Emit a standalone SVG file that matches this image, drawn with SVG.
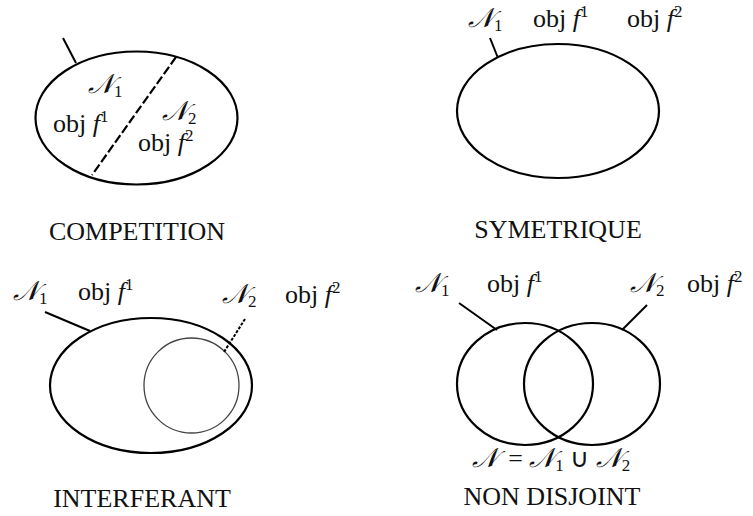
<svg xmlns="http://www.w3.org/2000/svg" width="753" height="516" viewBox="0 0 753 516">
<style>
.shape{fill:none;stroke:#000;stroke-width:2.2}
.thin{fill:none;stroke:#444;stroke-width:1.3}
.ptr{stroke:#000;stroke-width:2;fill:none}
.dash{stroke:#000;stroke-width:2.2;stroke-dasharray:9 3;fill:none}
text{font-family:"Liberation Serif","Times New Roman",serif;font-size:26px;fill:#111}
.it{font-style:italic}
.cal{font-family:"DejaVu Serif","Liberation Serif",serif;font-style:italic;font-size:27px}
.sup{font-size:17px}
.cap{text-anchor:middle}
</style>
<rect width="753" height="516" fill="#fff"/>
<g id="competition">
<ellipse class="shape" cx="136.5" cy="118" rx="101" ry="66.5"/>
<text x="88" y="93"><tspan class="cal">𝒩</tspan><tspan class="sup" dy="4">1</tspan></text>
<text x="53" y="132">obj <tspan class="it">f</tspan><tspan class="sup" dy="-10">1</tspan></text>
<text x="162" y="120"><tspan class="cal">𝒩</tspan><tspan class="sup" dy="4">2</tspan></text>
<text x="138" y="151">obj <tspan class="it">f</tspan><tspan class="sup" dy="-10">2</tspan></text>
<text class="cap" x="137" y="240">COMPETITION</text>
</g>
<g id="symetrique">
<ellipse class="shape" cx="558" cy="111" rx="101" ry="67"/>
<text x="468" y="27"><tspan class="cal">𝒩</tspan><tspan class="sup" dy="4">1</tspan></text>
<text x="533" y="27">obj <tspan class="it">f</tspan><tspan class="sup" dy="-10">1</tspan></text>
<text x="627" y="27">obj <tspan class="it">f</tspan><tspan class="sup" dy="-10">2</tspan></text>
<text class="cap" x="558" y="238">SYMETRIQUE</text>
</g>
<g id="interferant">
<ellipse class="shape" cx="151" cy="385.5" rx="101" ry="67.5"/>
<circle class="thin" cx="191.5" cy="385.5" r="47.5"/>
<text x="13" y="300"><tspan class="cal">𝒩</tspan><tspan class="sup" dy="4">1</tspan></text>
<text x="78" y="300">obj <tspan class="it">f</tspan><tspan class="sup" dy="-10">1</tspan></text>
<text x="222" y="303"><tspan class="cal">𝒩</tspan><tspan class="sup" dy="4">2</tspan></text>
<text x="285" y="303">obj <tspan class="it">f</tspan><tspan class="sup" dy="-10">2</tspan></text>
<text class="cap" x="142" y="507">INTERFERANT</text>
</g>
<g id="non-disjoint">
<ellipse class="shape" cx="525" cy="384" rx="68" ry="61"/>
<ellipse class="shape" cx="592" cy="384" rx="68" ry="61"/>
<text x="415" y="292"><tspan class="cal">𝒩</tspan><tspan class="sup" dy="4">1</tspan></text>
<text x="487" y="292">obj <tspan class="it">f</tspan><tspan class="sup" dy="-10">1</tspan></text>
<text x="630" y="292"><tspan class="cal">𝒩</tspan><tspan class="sup" dy="4">2</tspan></text>
<text x="687" y="292">obj <tspan class="it">f</tspan><tspan class="sup" dy="-10">2</tspan></text>
<text class="cap" x="551" y="467"><tspan class="cal">𝒩</tspan><tspan dx="4"> = </tspan><tspan class="cal">𝒩</tspan><tspan class="sup" dy="4">1</tspan><tspan dy="-4"> ∪ </tspan><tspan class="cal">𝒩</tspan><tspan class="sup" dy="4">2</tspan></text>
<text class="cap" x="552" y="505">NON DISJOINT</text>
</g>
<g id="connectors">
<line class="ptr" x1="63" y1="38" x2="76" y2="63"/>
<line class="dash" x1="176" y1="57" x2="92" y2="175"/>
<line class="ptr" x1="490" y1="38" x2="498" y2="58"/>
<line class="ptr" x1="45" y1="312" x2="90" y2="331"/>
<line class="ptr" x1="245" y1="319" x2="224" y2="352" stroke-dasharray="3 1.5" stroke-width="1.6"/>
<line class="ptr" x1="459" y1="303" x2="497" y2="330"/>
<line class="ptr" x1="647" y1="305" x2="622" y2="330"/>
</g>
</svg>
